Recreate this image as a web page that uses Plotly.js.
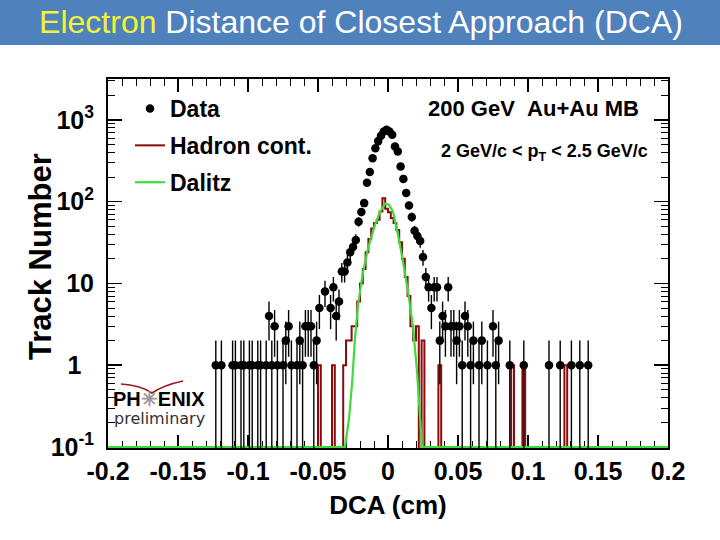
<!DOCTYPE html>
<html><head><meta charset="utf-8">
<script src="https://cdn.plot.ly/plotly-3.0.1.min.js"></script>
<style>html,body{margin:0;padding:0;background:#fff}#chart{width:720px;height:540px}</style>
</head><body><div id="chart"></div>
<script>
// ---- Data (DCA bin centers in cm, bin width 0.002) ----
const dataX = [-0.123,-0.119,-0.111,-0.109,-0.105,-0.103,-0.099,-0.097,-0.093,-0.091,-0.087,-0.085,-0.083,-0.081,-0.079,-0.075,-0.073,-0.071,-0.069,-0.065,-0.063,-0.061,-0.059,-0.057,-0.055,-0.053,-0.051,-0.049,-0.045,-0.041,-0.039,-0.037,-0.035,-0.033,-0.031,-0.029,-0.027,-0.025,-0.023,-0.021,-0.019,-0.017,-0.015,-0.013,-0.011,-0.009,-0.007,-0.005,-0.003,-0.001,
  0.001,0.003,0.005,0.007,0.009,0.011,0.013,0.015,0.017,0.019,0.021,0.023,0.025,0.027,0.029,0.031,0.033,0.035,0.037,0.039,0.041,0.043,0.045,0.047,0.049,0.051,0.053,0.055,0.057,0.059,0.061,0.065,0.067,0.071,0.075,0.077,0.079,0.087,0.097,0.115,0.123,0.131,0.137,0.143];
const dataY = [1,1,1,1,1,1,1,1,1,1,1,4,1,3,1,1,2,3,1,1,2,1,3,3,3,1,2,5,8,5,9,4,6,14,14,18,24,28,34,57,75,96,170,230,340,450,550,640,720,755,
  720,656,472,410,270,190,128,90,65,44,38,33,21,12,9,5,9,9,2,4,3,9,3,3,2,3,1,4,3,1,2,1,2,1,3,1,2,1,1,1,1,1,1,1];

const hadronX = [-0.049,-0.039,-0.031,-0.029,-0.027,-0.025,-0.023,-0.021,-0.019,-0.017,-0.015,-0.013,-0.011,-0.009,-0.007,-0.005,-0.003,-0.001,
  0.001,0.003,0.005,0.007,0.009,0.011,0.013,0.015,0.017,0.019,0.021,0.025,0.037,0.089,0.097,0.127];
const hadronY = [1,1,1,2,2,3,3,6,10,15,24,35,47,55,60,76,110,82,
  74,63,55,45,32,20,12,7,3,2,3,2,1,1,1,1];

const dalitzX = [-0.2,-0.0307,-0.0279,-0.0257,-0.0236,-0.0214,-0.0179,-0.0143,-0.0093,-0.0057,-0.0021,0.0007,0.0036,0.0071,0.0107,0.0143,0.0179,0.0207,0.0243,0.2];
const dalitzY = [0.1,0.1,0.22,0.59,2.1,5.5,13.6,26.7,52,75,95,92,75,40,18.5,8,2.9,0.85,0.1,0.1];

const xTickVals = [-0.2,-0.15,-0.1,-0.05,0,0.05,0.1,0.15,0.2];
const xTickText = ['-0.2','-0.15','-0.1','-0.05','0','0.05','0.1','0.15','0.2'];
const yTickVals = [0.1,1,10,100,1000];
const yTickText = ['10<sup>-1</sup>','1\u2002','10','10<sup>2</sup>','10<sup>3</sup>'];

// ---- Build full histogram (200 bins of 0.002 from -0.2 to 0.2) ----
const nBins = 200, binW = 0.002, xMin = -0.2;
const histX = [], histY = [];
for (let i = 0; i < nBins; i++) {
  const c = +(xMin + binW * (i + 0.5)).toFixed(4);
  histX.push(c);
  let v = 0;
  for (let j = 0; j < hadronX.length; j++) if (Math.abs(hadronX[j] - c) < 1e-6) v = hadronY[j];
  histY.push(v > 0 ? v : 1e-3);  // empty bins drawn below the axis floor
}
const errUp = dataY.map(v => Math.sqrt(v));
const errDn = dataY.map(v => Math.sqrt(v) >= v ? v - 1e-3 : Math.sqrt(v));

// ---- layout helpers (pixel -> paper) ----
const L = 108, R = 668, T = 79, B = 448;
const px = x => (x - L) / (R - L);
const py = y => (B - y) / (B - T);
const bold = (s) => ({family: 'Liberation Sans, Arial, sans-serif', size: s, color: '#000', weight: 'bold'});

// minor log ticks
const minorY = [];
for (let e = -1; e <= 3; e++) for (let d = 2; d <= 9; d++) minorY.push(d * Math.pow(10, e));

const traces = [
  {x: histX, y: histY, type: 'scatter', mode: 'lines', name: 'Hadron cont.',
   line: {color: '#8b0a0a', width: 2, shape: 'hvh'}, legendgroup: 'h', legendrank: 2},
  {x: dalitzX, y: dalitzY, type: 'scatter', mode: 'lines', name: 'Dalitz',
   line: {color: '#3ddc3d', width: 2.2}, legendgroup: 'd', legendrank: 3},
  {x: dataX, y: dataY, type: 'scatter', mode: 'markers', name: 'Data',
   marker: {color: '#000', size: 8.5},
   error_y: {type: 'data', symmetric: false, array: errUp, arrayminus: errDn, width: 0, thickness: 1.4, color: '#000'},
   legendgroup: 'a', legendrank: 1}
];

const layout = {
  width: 720, height: 540,
  margin: {l: L, r: 720 - R, t: T, b: 540 - B},
  paper_bgcolor: '#fff', plot_bgcolor: '#fff',
  showlegend: true,
  legend: {x: px(130), y: py(87), xanchor: 'left', yanchor: 'top', bgcolor: 'rgba(0,0,0,0)',
           font: bold(23), traceorder: 'grouped', tracegroupgap: 4},
  title: {text: '<span style="color:#f3f336">Electron</span> Distance of Closest Approach (DCA)',
          font: {family: 'Liberation Sans, Arial, sans-serif', size: 32, color: '#fff'},
          x: 361 / 720, xref: 'container', xanchor: 'center', y: 1 - 22 / 540, yref: 'container', yanchor: 'middle'},
  xaxis: {range: [-0.2, 0.2], tickmode: 'array', tickvals: xTickVals, ticktext: xTickText,
          ticks: 'inside', ticklen: 13, tickwidth: 1.5, tickcolor: '#000', mirror: 'allticks',
          showline: true, linewidth: 2, linecolor: '#000', showgrid: false, zeroline: false,
          minor: {tick0: 0, dtick: 0.01, ticks: 'inside', ticklen: 7, tickwidth: 1, tickcolor: '#000'},
          tickfont: bold(25), layer: 'below traces',
          title: {text: 'DCA (cm)', font: bold(26), standoff: 12}},
  yaxis: {type: 'log', range: [-1.012, 3.5], tickmode: 'array', tickvals: yTickVals, ticktext: yTickText,
          ticks: 'inside', ticklen: 14, tickwidth: 1.5, tickcolor: '#000', mirror: 'allticks',
          showline: true, linewidth: 2, linecolor: '#000', showgrid: false, zeroline: false,
          minor: {tickmode: 'array', tickvals: minorY, ticks: 'inside', ticklen: 7, tickwidth: 1, tickcolor: '#000'},
          tickfont: bold(25), layer: 'below traces', ticklabelstandoff: 7},
  shapes: [
    {type: 'rect', xref: 'paper', yref: 'paper', x0: px(-20), x1: px(740), y0: py(45), y1: py(-20),
     fillcolor: '#4f81bd', line: {width: 0}, layer: 'below'},
    {type: 'path', xref: 'paper', yref: 'paper',
     path: `M ${px(121)},${py(384)} Q ${px(140)},${py(385)} ${px(152)},${py(393)} Q ${px(164)},${py(385)} ${px(183)},${py(381)}`,
     line: {color: '#9b1b1b', width: 1.6}}
  ],
  annotations: [
    {text: 'Track Number', x: px(40), y: py(257), xref: 'paper', yref: 'paper', textangle: -90,
     showarrow: false, font: bold(31), xanchor: 'center', yanchor: 'middle'},
    {text: '200 GeV\u00a0\u00a0Au+Au MB', x: px(533), y: py(108), xref: 'paper', yref: 'paper',
     showarrow: false, font: bold(22), xanchor: 'center', yanchor: 'middle'},
    {text: '2 GeV/c &lt; p<sub>T</sub> &lt; 2.5 GeV/c', x: px(544), y: py(152), xref: 'paper', yref: 'paper',
     showarrow: false, font: bold(18), xanchor: 'center', yanchor: 'middle'},
    {text: 'PH<span style="color:#9a9a9a">✳</span>ENIX', x: px(159), y: py(399), xref: 'paper', yref: 'paper',
     showarrow: false, font: bold(20), xanchor: 'center', yanchor: 'middle'},
    {text: 'preliminary', x: px(159), y: py(418), xref: 'paper', yref: 'paper',
     showarrow: false, font: {family: 'DejaVu Sans, sans-serif', size: 16, color: '#333'}, xanchor: 'center', yanchor: 'middle'}
  ]
};

Plotly.newPlot('chart', traces, layout, {displayModeBar: false, staticPlot: true});
</script>
</body></html>
